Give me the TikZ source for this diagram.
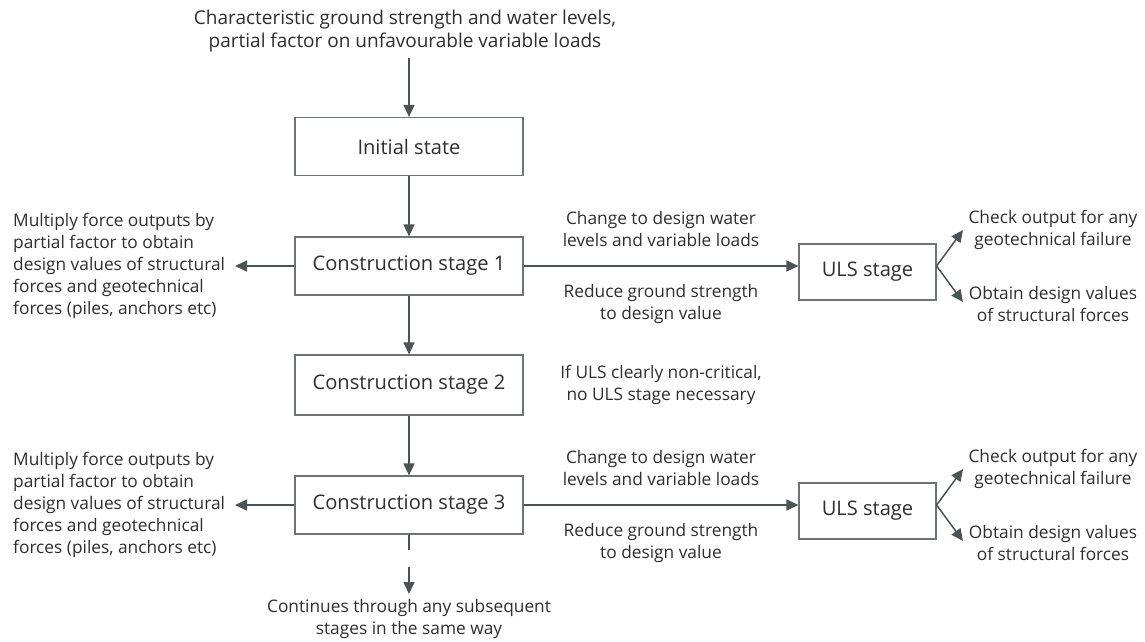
\documentclass[tikz,border=0pt]{standalone}
\usepackage{fontspec}
\setmainfont{Open Sans}
\usetikzlibrary{arrows.meta}
\definecolor{ln}{HTML}{4A5456}
\definecolor{bx}{HTML}{6E7374}
\definecolor{tx}{HTML}{2E2E2E}
\tikzset{
  box/.style={draw=bx, line width=1.2pt, minimum width=228pt, minimum height=58pt, inner sep=0pt, font=\fontsize{20.1}{24}\selectfont, text=tx},
  ulsbox/.style={box, minimum width=137pt, minimum height=56pt},
  lbl/.style={align=center, inner sep=0pt, font=\fontsize{17.3}{22}\selectfont, text=tx},
  lbll/.style={lbl, align=left},
  toplbl/.style={lbl, font=\fontsize{19}{23}\selectfont},
  conn/.style={draw=ln, line width=1.5pt},
  arr/.style={conn, -{Triangle[length=12pt,width=11pt]}},
}
\begin{document}
\begin{tikzpicture}[x=1pt,y=-1pt]
\useasboundingbox (0,0) rectangle (1145,641);

% main column
\node[toplbl] (top) at (405,31.5) {Characteristic ground strength and water levels,\\partial factor on unfavourable variable loads};
\coordinate (t0) at (409,58);
\node[box] (init) at (409,146.5) {Initial state};
\node[box] (cs1) at (409,266) {Construction stage 1};
\node[box, minimum height=60pt] (cs2) at (409,385) {Construction stage 2};
\node[box] (cs3) at (409,505) {Construction stage 3};

\draw[arr] (t0) -- (init.north);
\draw[arr] (init.south) -- (cs1.north);
\draw[arr] (cs1.south) -- (cs2.north);
\draw[arr] (cs2.south) -- (cs3.north);

% continuation
\coordinate (d1) at (409,550);
\coordinate (d2) at (409,567);
\coordinate (d3) at (409,594);
\draw[conn] (cs3.south) -- (d1);
\draw[arr] (d2) -- (d3);
\node[lbl] (cont) at (409,618.5) {Continues through any subsequent\\stages in the same way};

% left outputs
\node[lbll, anchor=west] (left1) at (13,266) {Multiply force outputs by\\partial factor to obtain\\design values of structural\\forces and geotechnical\\forces (piles, anchors etc)};
\node[lbll, anchor=west] (left3) at (13,505) {Multiply force outputs by\\partial factor to obtain\\design values of structural\\forces and geotechnical\\forces (piles, anchors etc)};
\coordinate (l1) at (235,266);
\coordinate (l3) at (235,505);
\draw[arr] (cs1.west) -- (l1);
\draw[arr] (cs3.west) -- (l3);

% ULS branches
\node[ulsbox] (uls1) at (867.5,272) {ULS stage};
\node[ulsbox] (uls3) at (867.5,511) {ULS stage};
\draw[arr] (cs1.east) -- (cs1.east -| uls1.west);
\draw[arr] (cs3.east) -- (cs3.east -| uls3.west);

\node[lbl] (ch1) at (661,229) {Change to design water\\levels and variable loads};
\node[lbl] (rd1) at (661,303.5) {Reduce ground strength\\to design value};
\node[lbl] (ch3) at (661,468) {Change to design water\\levels and variable loads};
\node[lbl] (rd3) at (661,542.5) {Reduce ground strength\\to design value};
\node[lbl] (nc) at (661,385) {If ULS clearly non-critical,\\no ULS stage necessary};

\coordinate (u1) at (cs1.east -| uls1.east);
\coordinate (u1a) at (963,230);
\coordinate (u1b) at (963,302);
\draw[arr] (u1) -- (u1a);
\draw[arr] (u1) -- (u1b);
\coordinate (u3) at (cs3.east -| uls3.east);
\coordinate (u3a) at (963,469);
\coordinate (u3b) at (963,541);
\draw[arr] (u3) -- (u3a);
\draw[arr] (u3) -- (u3b);

\node[lbl] (chk1) at (1053,230) {Check output for any\\geotechnical failure};
\node[lbl] (obt1) at (1053,304) {Obtain design values\\of structural forces};
\node[lbl] (chk3) at (1053,469) {Check output for any\\geotechnical failure};
\node[lbl] (obt3) at (1053,543) {Obtain design values\\of structural forces};
\end{tikzpicture}
\end{document}
